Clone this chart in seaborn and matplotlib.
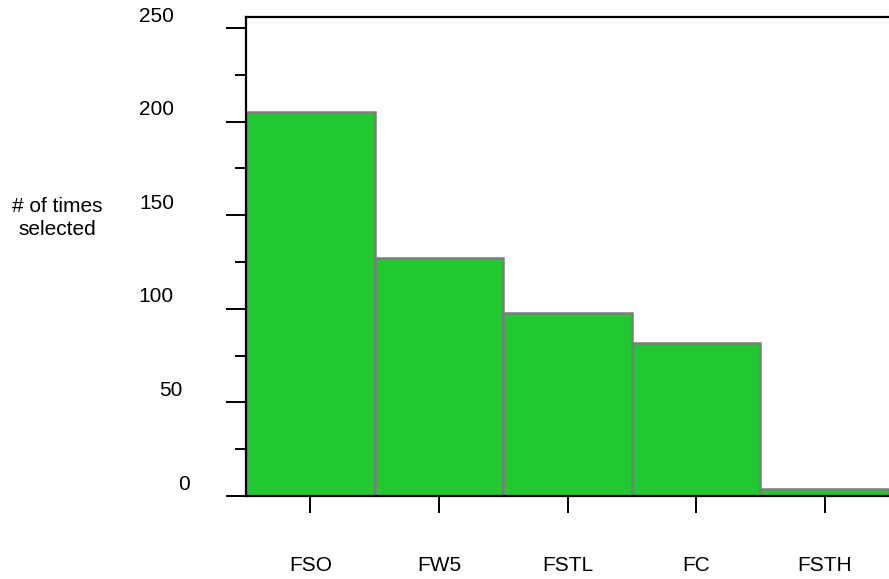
import numpy as np
import pandas as pd
import seaborn as sns
import matplotlib.pyplot as plt
from matplotlib.ticker import MultipleLocator
from matplotlib.transforms import ScaledTranslation

categories = ["FSO", "FW5", "FSTL", "FC", "FSTH"]
times_selected = [205, 127, 98, 82, 3.5]
y_ticks = [0, 50, 100, 150, 200, 250]
y_label_right_px = [56, 63, 72, 72, 72, 72]  # distance of label right edge from the axis

df = pd.DataFrame({"Feature": categories, "Times": times_selected})

sns.set_style("ticks")
plt.rcParams["font.family"] = ["Liberation Sans", "DejaVu Sans"]
plt.rcParams["text.color"] = "black"
plt.rcParams["xtick.color"] = "black"
plt.rcParams["ytick.color"] = "black"

fig = plt.figure(figsize=(8.89, 5.79), dpi=100)
ax = fig.add_axes([246 / 889, 1 - 496 / 579, 643 / 889, (496 - 17) / 579])

sns.barplot(
    data=df,
    x="Feature",
    y="Times",
    color="#22c832",
    saturation=1,
    width=1,
    edgecolor="#7c7c7c",
    linewidth=1.8,
    ax=ax,
)

ax.set_xlim(-0.5, 4.5)
ax.set_ylim(0, 255.9)
ax.yaxis.set_major_locator(MultipleLocator(50))
ax.yaxis.set_minor_locator(MultipleLocator(25))
ax.tick_params(axis="y", which="major", length=14.4, width=1.4, direction="out", labelleft=False)
ax.tick_params(axis="y", which="minor", length=8, width=1.4, direction="out")
ax.tick_params(axis="x", length=12.2, width=1.4, direction="out", pad=31, labelsize=15,
               labelcolor="black")

for spine in ["left", "top", "bottom"]:
    ax.spines[spine].set_linewidth(1.6)
    ax.spines[spine].set_color("black")
ax.spines["right"].set_visible(False)

ax.set_xlabel("")
ax.set_ylabel("")

# y tick labels sit a little above their ticks
for val, dx in zip(y_ticks, y_label_right_px):
    trans = ax.get_yaxis_transform() + ScaledTranslation(-dx / 100, 12 / 100, fig.dpi_scale_trans)
    ax.text(0, val, str(val), transform=trans, ha="right", va="center", fontsize=15, color="black")

fig.text(57 / 889, 1 - 218 / 579, "# of times\nselected", ha="center", va="center",
         fontsize=15, multialignment="center", linespacing=1.3, color="black")

plt.savefig("out.png", dpi=100)
